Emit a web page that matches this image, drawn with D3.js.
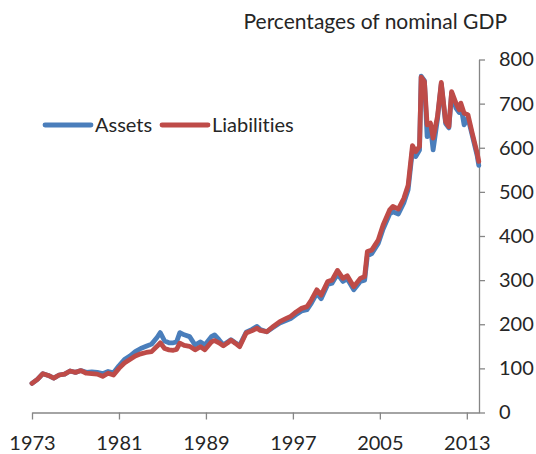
<!DOCTYPE html>
<html><head><meta charset="utf-8">
<script src="https://cdn.jsdelivr.net/npm/d3@7"></script>
<style>body{margin:0;background:#fff}svg{display:block}text{font-family:Lato,"Open Sans",sans-serif;fill:#262626;font-variant-ligatures:none}</style>
</head><body><svg id="c" width="536" height="454"></svg>
<script>
const years = [1973.0,1973.5,1974.0,1974.5,1975.0,1975.5,1976.0,1976.5,1977.0,1977.5,1978.0,1978.5,1979.0,1979.5,1980.0,1980.5,1981.0,1981.5,1982.0,1982.5,1983.0,1983.5,1984.0,1984.5,1984.8,1985.2,1985.6,1986.0,1986.3,1986.6,1987.0,1987.5,1988.0,1988.5,1988.9,1989.5,1989.8,1990.2,1990.6,1991.0,1991.3,1991.7,1992.1,1992.7,1993.2,1993.7,1994.0,1994.6,1995.2,1995.8,1996.3,1996.8,1997.3,1997.8,1998.3,1998.7,1999.2,1999.6,2000.2,2000.6,2001.1,2001.6,2002.0,2002.6,2003.2,2003.6,2003.85,2004.25,2004.85,2005.3,2005.9,2006.2,2006.7,2007.2,2007.6,2008.0,2008.3,2008.65,2008.8,2009.1,2009.35,2009.65,2009.9,2010.3,2010.65,2011.05,2011.35,2011.6,2012.0,2012.3,2012.45,2012.75,2013.1,2013.5,2013.95,2014.1];
const liabilities = [66,75,88,84,78,85,87,94,91,95,89,88,87,82,89,85,100,112,120,128,133,136,138,150,158,145,142,141,143,157,152,150,142,149,142,160,163,158,151,158,164,157,149,180,185,191,186,183,195,206,212,218,228,236,240,255,278,266,297,300,322,304,310,285,304,308,365,368,391,425,459,467,461,485,515,605,591,603,760,750,652,656,622,671,748,659,648,727,701,686,701,678,675,633,588,569];
const assets = [66,75,88,84,78,85,87,94,91,95,91,92,91,88,93,90,106,120,128,138,145,150,155,170,181,162,158,158,160,181,176,172,153,160,153,172,176,165,153,160,165,158,152,182,188,195,188,183,193,203,208,213,222,230,233,248,270,258,290,293,314,297,303,278,297,300,355,360,383,416,450,455,450,475,505,595,580,595,762,752,625,650,595,665,745,655,645,724,690,680,695,652,668,628,582,560];
const xTicks = [1973,1981,1989,1997,2005,2013];
const yTicks = [0,100,200,300,400,500,600,700,800];
const seriesNames = ["Assets","Liabilities"];
const colors = ["#4A7EBB","#BE4B48"];

const svg = d3.select("#c");
const x = d3.scaleLinear().domain([1973, 2014.12]).range([32, 479]);
const y = d3.scaleLinear().domain([0, 800]).range([412.5, 59.5]);
const axisColor = "#868686";
const fs = "20px";

// x axis
const xa = svg.append("g").attr("transform","translate(0,412.5)").call(d3.axisBottom(x).tickValues(xTicks).tickFormat(d3.format("d")).tickSize(7).tickSizeOuter(0));
xa.select(".domain").attr("stroke",axisColor).attr("stroke-width",1.3);
xa.selectAll(".tick line").attr("stroke",axisColor).attr("stroke-width",1.3);
xa.selectAll("text").attr("font-size",fs).attr("dy",null).attr("y",37).attr("fill","#262626").style("font-family","Lato");

// y axis
const ya = svg.append("g").attr("transform","translate(479,0)").call(d3.axisRight(y).tickValues(yTicks).tickSize(6).tickSizeOuter(0));
ya.select(".domain").attr("stroke",axisColor).attr("stroke-width",1.3);
ya.selectAll(".tick line").attr("stroke",axisColor).attr("stroke-width",1.3);
ya.selectAll("text").attr("font-size",fs).attr("x",20).attr("fill","#262626").style("font-family","Lato");

// lines
const line = (vals) => d3.line().x((d,i)=>x(years[i])).y(d=>y(d)).curve(d3.curveLinear)(vals);
[assets, liabilities].forEach((vals,i)=>{
  svg.append("path").attr("d", line(vals)).attr("fill","none").attr("stroke",colors[i])
    .attr("stroke-width",4.8).attr("stroke-linejoin","round").attr("stroke-linecap","round");
});

// title
svg.append("text").attr("x",507).attr("y",29).attr("text-anchor","end").attr("font-size","21px").text("Percentages of nominal GDP");

// legend
const legX = [45, 162];
seriesNames.forEach((n,i)=>{
  svg.append("line").attr("x1",legX[i]).attr("x2",legX[i]+46).attr("y1",125).attr("y2",125)
    .attr("stroke",colors[i]).attr("stroke-width",4.8).attr("stroke-linecap","round");
  svg.append("text").attr("x",legX[i]+50).attr("y",132).attr("font-size",fs).text(n);
});
</script></body></html>
